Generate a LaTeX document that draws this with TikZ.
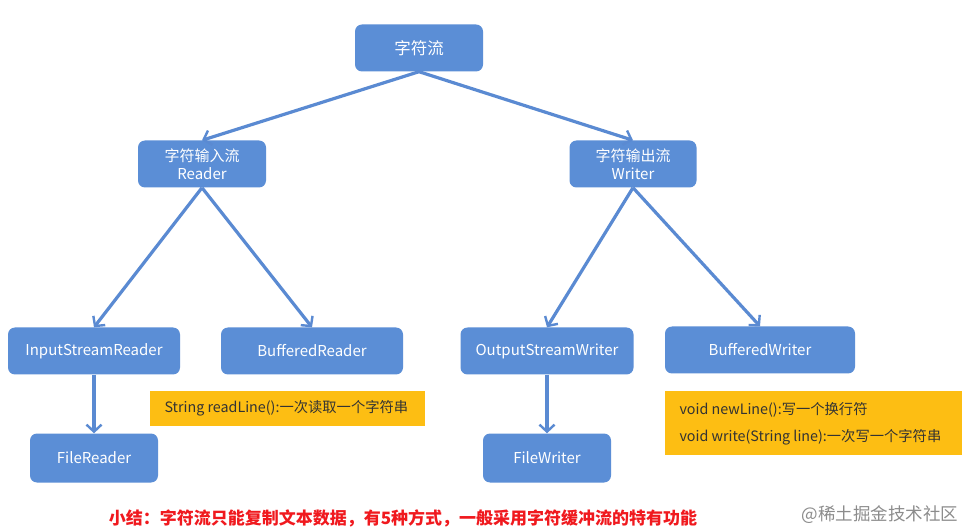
\documentclass[tikz,border=0pt]{standalone}
\usepackage{fontspec}
\setmainfont{Noto Sans CJK SC}
\usetikzlibrary{arrows.meta,positioning,shapes}

\definecolor{boxblue}{HTML}{5B8ED6}
\definecolor{lineblue}{HTML}{5A8AD2}
\definecolor{noteorange}{HTML}{FDBE13}
\definecolor{notered}{HTML}{F0191E}

\tikzset{
  cls/.style={rectangle,rounded corners=7pt,fill=boxblue,text=white,font=\fontsize{15}{18}\selectfont,minimum height=47pt,align=center,inner sep=0pt},
  note/.style={rectangle,fill=noteorange,text=black!80,align=left,inner sep=0pt,anchor=north west},
  notetext/.style={anchor=west,font=\fontsize{14.3}{17}\selectfont,text=black!80},
  edge/.style={draw=lineblue,line width=3.2pt,-{Straight Barb[length=7pt,width=15pt,line width=2.4pt]}}
}

\begin{document}
\begin{tikzpicture}[x=1pt,y=-1pt]
    \useasboundingbox[fill=white] (0,0) rectangle (967,529);

    \node[cls,minimum width=128pt,font=\fontsize{16.5}{19}\selectfont] (root) at (419,48) {字符流};

    \node[cls,minimum width=128pt] (reader) at (202,164) {字符输入流\\Reader};
    \node[cls,minimum width=127pt] (writer) at (633,164) {字符输出流\\Writer};

    \node[cls,minimum width=172pt] (isr) at (94,351) {InputStreamReader};
    \node[cls,minimum width=182pt] (br) at (312,351) {BufferedReader};
    \node[cls,minimum width=173pt] (osw) at (547,351) {OutputStreamWriter};
    \node[cls,minimum width=190pt] (bw) at (760,350) {BufferedWriter};

    \node[cls,minimum width=128pt,minimum height=49pt] (fr) at (94,458) {FileReader};
    \node[cls,minimum width=128pt,minimum height=49pt] (fw) at (547,458) {FileWriter};

    \foreach \from/\to in {root/reader,root/writer,reader/isr,reader/br,writer/osw,writer/bw,isr/fr,osw/fw}
    \draw[edge] (\from.south) -- (\to.north);

    % special methods of the buffered streams
    \node[note,minimum width=275pt,minimum height=35pt] (readnote) at (150,391) {};
    \node[notetext] (readtext) at (161,408.5) {String readLine():一次读取一个字符串};
    \node[note,minimum width=297pt,minimum height=64pt] (writenote) at (665,391) {};
    \node[notetext] (newline) at (676,410) {void newLine():写一个换行符};
    \node[notetext] (writeline) at (676,437) {void write(String line):一次写一个字符串};

    \node[font=\bfseries\fontsize{17}{20}\selectfont,text=notered] (summary) at (403,518) {小结：字符流只能复制文本数据，有5种方式，一般采用字符缓冲流的特有功能};
    \node[font=\fontsize{17.5}{20}\selectfont,text=black!45,anchor=east] (mark) at (962,515) {@稀土掘金技术社区};
  \end{tikzpicture}
\end{document}
